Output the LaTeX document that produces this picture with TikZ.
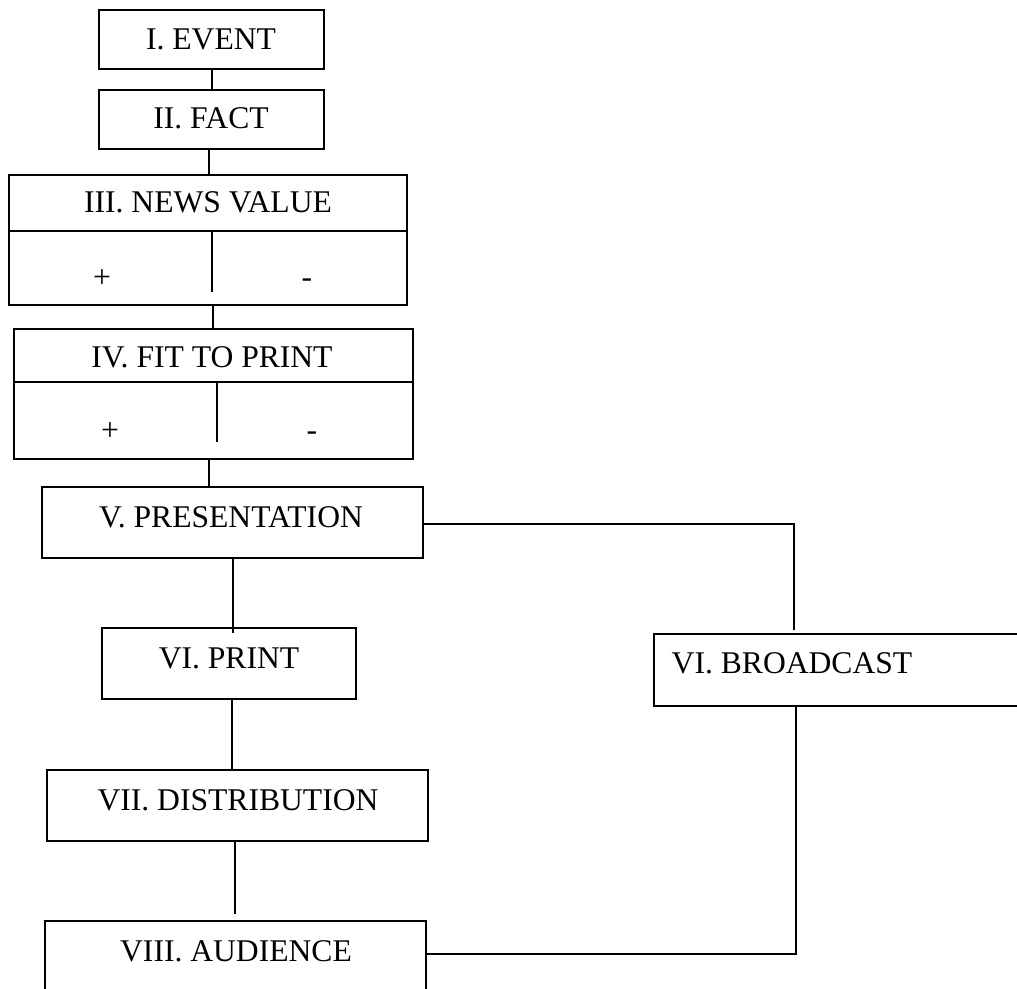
\documentclass[tikz,border=0pt]{standalone}
\usepackage{fontspec}
\setmainfont{Liberation Serif}
\begin{document}
\begin{tikzpicture}[x=0.5pt,y=-0.5pt,
  box/.style={draw,line width=0.75pt,inner sep=0pt,minimum width=#1},
  lbl/.style={anchor=base,inner sep=0pt,font=\fontsize{15.8}{18}\selectfont},
  conn/.style={line width=0.75pt},
  divider/.style={line width=0.75pt}]
\useasboundingbox (0,0) rectangle (1017,989);
\clip (0,0) rectangle (1017,989);
% boxes
\node[box=112.5pt,minimum height=29.5pt] (ev) at (211.5,39.5) {};
\node[box=112.5pt,minimum height=29.5pt] (fa) at (211.5,119.5) {};
\node[box=199pt,minimum height=65pt] (nv) at (208,240) {};
\node[box=199.5pt,minimum height=65pt] (fp) at (213.5,394) {};
\node[box=190.5pt,minimum height=35.5pt] (pr) at (232.5,522.5) {};
\node[box=127pt,minimum height=35.5pt] (pt) at (229,663.5) {};
\node[box=190.5pt,minimum height=35.5pt] (di) at (237.5,805.5) {};
\node[box=190.5pt,minimum height=35.5pt] (au) at (235.5,956.5) {};
\node[box=190.5pt,minimum height=36pt] (bc) at (844.5,670) {};
% labels
\node[lbl] (evt) at (211,50) {I. EVENT};
\node[lbl] (fat) at (211,129) {II. FACT};
\node[lbl] (nvt) at (208,213) {III. NEWS VALUE};
\node[lbl] (nvp) at (102,288) {+};
\node[lbl] (nvm) at (307,288) {-};
\node[lbl] (fpt) at (212,368) {IV. FIT TO PRINT};
\node[lbl] (fpp) at (110,441) {+};
\node[lbl] (fpm) at (312,441) {-};
\node[lbl] (prt) at (231,527) {V. PRESENTATION};
\node[lbl] (ptt) at (229,668) {VI. PRINT};
\node[lbl] (dit) at (238,810) {VII. DISTRIBUTION};
\node[lbl] (aut) at (236,961) {VIII. AUDIENCE};
\node[lbl] (bct) at (792,673) {VI. BROADCAST};
% dividers inside boxes
\coordinate (nvd) at (0,231);
\coordinate (fpd) at (0,382);
\draw[divider] (nv.west |- nvd) -- (nv.east |- nvd);
\draw[divider] (212,231) -- (212,292);
\draw[divider] (fp.west |- fpd) -- (fp.east |- fpd);
\draw[divider] (217,382) -- (217,442);
% connectors
\draw[conn] ([xshift=0.25pt]ev.south) -- ([xshift=0.25pt]ev.south |- fa.north);
\draw[conn] ([xshift=-1.25pt]fa.south) -- ([xshift=-1.25pt]fa.south |- nv.north);
\draw[conn] ([xshift=2.5pt]nv.south) -- ([xshift=2.5pt]nv.south |- fp.north);
\draw[conn] ([xshift=-2.25pt]fp.south) -- ([xshift=-2.25pt]fp.south |- pr.north);
\draw[conn] ([xshift=0.25pt]pr.south) -- ([xshift=0.25pt,yshift=-3pt]pr.south |- pt.north);
\draw[conn] ([xshift=1.5pt]pt.south) -- ([xshift=1.5pt]pt.south |- di.north);
\draw[conn] ([xshift=-1.25pt]di.south) -- ([xshift=-1.25pt,yshift=3pt]di.south |- au.north);
\coordinate (c1) at (794,524);
\coordinate (c2) at (796,954);
\draw[conn] (pr.east |- c1) -- (c1) -- ([yshift=1.5pt]c1 |- bc.north);
\draw[conn] (au.east |- c2) -- (c2) -- (c2 |- bc.south);
\end{tikzpicture}
\end{document}
